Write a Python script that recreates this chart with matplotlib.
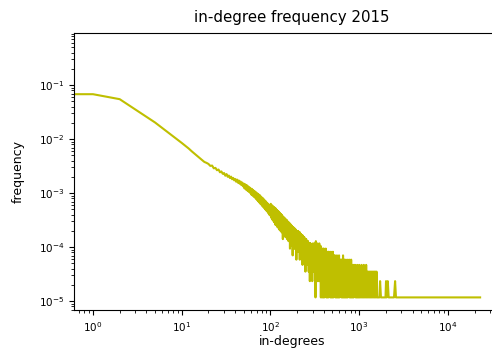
import numpy as np
import matplotlib
matplotlib.use('Agg')
import matplotlib.pyplot as plt

# in-degree counts for degrees 0..300 (index = degree)
counts_head = [
    45900, 5780, 4675, 3010, 2205, 1733, 1380, 1135, 960, 830,
    725, 640, 570, 505, 455, 412, 375, 348, 322, 310,
    296, 272, 276, 245, 250, 226, 233, 207, 215, 194,
    201, 179, 192, 171, 180, 162, 172, 154, 163, 147,
    156, 139, 152, 133, 146, 127, 140, 120, 134, 114,
    128, 104, 124, 99, 120, 95, 114, 90, 109, 86,
    104, 80, 102, 77, 97, 73, 93, 70, 90, 66,
    86, 63, 83, 60, 80, 57, 78, 54, 74, 52,
    71, 49, 69, 47, 66, 45, 63, 43, 61, 41,
    58, 40, 56, 38, 54, 36, 52, 34, 51, 33,
    49, 54, 30, 51, 29, 50, 27, 48, 26, 47,
    25, 46, 24, 45, 22, 44, 23, 42, 21, 41,
    20, 40, 21, 39, 19, 38, 18, 37, 19, 35,
    17, 35, 18, 34, 16, 33, 17, 32, 12, 31,
    16, 30, 15, 30, 16, 29, 14, 28, 13, 28,
    14, 27, 13, 27, 12, 26, 13, 25, 12, 25,
    11, 24, 12, 24, 11, 23, 8, 23, 11, 22,
    10, 22, 10, 21, 11, 21, 9, 20, 6, 20,
    9, 20, 10, 19, 9, 19, 8, 19, 9, 18,
    8, 18, 9, 18, 8, 17, 5, 17, 8, 17,
    8, 17, 8, 16, 7, 17, 8, 16, 7, 16,
    8, 16, 7, 15, 5, 16, 7, 15, 7, 15,
    6, 15, 7, 14, 6, 14, 7, 14, 6, 13,
    4, 14, 6, 13, 6, 13, 6, 13, 5, 12,
    6, 13, 5, 12, 6, 12, 5, 12, 3, 12,
    5, 11, 5, 12, 5, 11, 4, 11, 5, 11,
    4, 11, 5, 10, 4, 11, 5, 10, 4, 10,
    3, 10, 4, 10, 5, 10, 4, 10, 2, 10,
    4, 9, 4, 10, 3, 9, 4, 9, 4, 9,
    3, 9, 3, 9, 4, 9, 2, 9, 3, 9,
    3,
]

# sparse tail: degrees above 300 that occur, with their counts
tail_degrees = [
    301, 304, 307, 310, 313, 316, 319, 322, 325, 328, 331, 334, 337, 340,
    343, 346, 349, 352, 355, 358, 361, 364, 367, 370, 373, 376, 379, 382,
    385, 388, 391, 394, 397,
    400, 405, 410, 416, 421, 427, 432, 438, 444, 450, 456, 462, 468, 474,
    480, 487, 493, 500, 506, 513, 520, 527, 534, 541, 548, 555, 562, 570,
    577, 585, 593, 600, 608, 616, 625, 633, 641, 650, 658, 667, 676, 685,
    694, 703, 712, 722, 731, 741, 751, 761, 771, 781, 791, 802, 812, 823,
    834, 845, 856, 867, 879, 890, 902, 914, 926, 938, 951, 963, 976, 989,
    1002, 1017, 1033, 1048, 1064, 1080, 1096, 1113, 1129, 1146, 1164, 1181,
    1199, 1217, 1235, 1254, 1273, 1292, 1311, 1331, 1351, 1371, 1392, 1413,
    1434, 1456, 1478, 1500, 1522, 1545, 1569, 1592, 1616,
    1650, 1690, 1721, 1760, 1810, 1860, 1920, 1980, 2008, 2040, 2100, 2150,
    2230, 2310, 2400, 2470, 2540, 2600, 2660, 23070,
]
tail_counts = [
    10, 4, 9, 3, 10, 4, 9, 1, 11, 3, 9, 3, 10, 2,
    9, 3, 8, 2, 10, 2, 8, 3, 9, 1, 8, 2, 8, 1,
    7, 2, 8, 1, 7,
    8, 1, 7, 2, 8, 1, 6, 1, 7, 1, 7, 2, 6, 1,
    7, 1, 6, 1, 7, 1, 6, 2, 6, 1, 5, 1, 6, 1,
    5, 1, 6, 1, 5, 2, 5, 1, 5, 1, 6, 1, 5, 1,
    5, 1, 4, 1, 5, 1, 4, 2, 5, 1, 4, 1, 5, 1,
    4, 1, 4, 1, 4, 2, 4, 1, 3, 1, 4, 1, 3, 1,
    4, 1, 3, 1, 4, 1, 3, 1, 4, 1, 3, 1,
    4, 1, 3, 1, 3, 1, 3, 1, 3, 1, 3, 1,
    3, 1, 3, 1, 3, 1, 3, 1, 1,
    1, 1, 2, 1, 1, 1, 1, 1, 2, 1, 2, 1,
    1, 1, 1, 1, 2, 1, 1, 1,
]

degrees = np.concatenate([np.arange(len(counts_head)), tail_degrees])
counts = np.concatenate([counts_head, tail_counts]).astype(float)
frequency = counts / counts.sum()

fig = plt.figure(figsize=(4.92, 3.53), dpi=100)
ax = fig.add_axes([74 / 492, 1 - 310 / 353, 436 / 492, 277 / 353])

ax.plot(degrees, frequency, color='y', linewidth=1.5)
ax.set_xscale('log')
ax.set_yscale('log')
ax.set_xlim(10 ** -0.214, 10 ** 4.70)
ax.spines['right'].set_visible(False)

ax.set_title('in-degree frequency 2015', fontsize=10.8, pad=8)
ax.set_xlabel('in-degrees', fontsize=9, labelpad=1)
ax.set_ylabel('frequency', fontsize=9, labelpad=10)
ax.tick_params(labelsize=7.5)

fig.savefig('out.png', dpi=100)
